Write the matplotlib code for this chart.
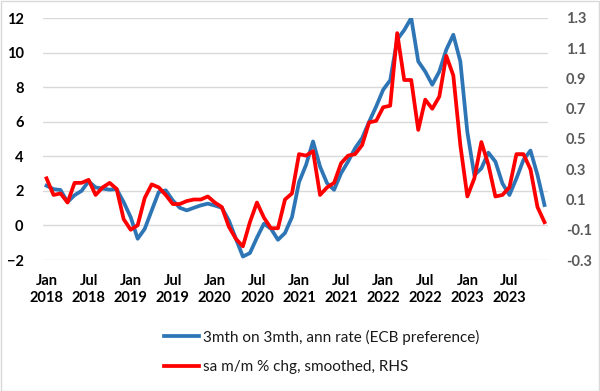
import matplotlib
matplotlib.use("Agg")
import matplotlib.pyplot as plt
from matplotlib.patches import Rectangle

plt.rcParams['font.family'] = ['Lato', 'DejaVu Sans']

months = ["Jan", "Jul"]
years = list(range(2018, 2024))
tick_labels = [f"{m}\n{y}" for y in years for m in months]

blue_3m3m = [2.3, 2.1, 2.05, 1.35, 1.75, 2.0, 2.55, 2.2, 2.13, 2.07, 2.1, 1.35,
             0.48, -0.77, -0.2, 0.87, 1.93, 2.03, 1.45, 1.02, 0.87, 1.02, 1.16, 1.26,
             1.15, 1.02, 0.29, -0.77, -1.8, -1.6, -0.71, 0.1, -0.19, -0.83, -0.44, 0.48,
             2.5, 3.5, 4.86, 3.4, 2.44, 2.06, 3.02, 3.7, 4.47, 5.05, 6.0, 6.88,
             7.85, 8.4, 10.75, 11.3, 12.0, 9.49, 8.9, 8.14, 8.9, 10.17, 11.03, 9.49,
             5.4, 2.9, 3.3, 4.21, 3.69, 2.43, 1.76, 2.72, 3.79, 4.33, 2.92, 1.18]

red_mm = [0.24, 0.13, 0.14, 0.08, 0.21, 0.21, 0.23, 0.13, 0.18, 0.21, 0.17, -0.03,
          -0.10, -0.07, 0.11, 0.20, 0.18, 0.13, 0.07, 0.07, 0.09, 0.10, 0.10, 0.12,
          0.08, 0.05, -0.08, -0.16, -0.21, -0.05, 0.08, -0.02, -0.09, -0.09, 0.10, 0.14,
          0.40, 0.39, 0.42, 0.13, 0.18, 0.21, 0.34, 0.39, 0.40, 0.46, 0.61, 0.62,
          0.71, 0.72, 1.20, 0.89, 0.89, 0.56, 0.76, 0.70, 0.78, 1.05, 0.92, 0.46,
          0.12, 0.24, 0.48, 0.33, 0.12, 0.13, 0.18, 0.40, 0.40, 0.30, 0.05, -0.05]

label_blue = "3mth on 3mth, ann rate (ECB preference)"
label_red = "sa m/m % chg, smoothed, RHS"

x = list(range(len(blue_3m3m)))

fig = plt.figure(figsize=(6.0, 3.91), dpi=100)
ax = fig.add_axes([43/600, 1-260/391, (548-43)/600, (260-18)/391])
ax2 = ax.twinx()

l1, = ax.plot(x, blue_3m3m, color="#2E75B6", lw=2.7, solid_joinstyle='round')
l2, = ax2.plot(x, red_mm, color="#FF0000", lw=2.7, solid_joinstyle='round')

ax.set_xlim(-0.5, len(x) - 0.5)
ax.set_ylim(-2, 12)
ax.set_yticks(range(-2, 13, 2))
ax2.set_ylim(-0.3, 1.3)
ax2.set_yticks([-0.3, -0.1, 0.1, 0.3, 0.5, 0.7, 0.9, 1.1, 1.3])
ax2.set_yticklabels([f"{v:.1f}" for v in [-0.3, -0.1, 0.1, 0.3, 0.5, 0.7, 0.9, 1.1, 1.3]])

ax.set_xticks(range(0, len(x), 6))
ax.set_xticklabels(tick_labels, linespacing=1.25)

ax.grid(axis='y', color="#D9D9D9", lw=1)
ax.set_axisbelow(True)
for a in (ax, ax2):
    for s in a.spines.values():
        s.set_visible(False)
    a.tick_params(length=0)

ax.tick_params(axis='y', labelsize=10.5, labelcolor='black', pad=14)
ax.tick_params(axis='x', labelsize=10.5, labelcolor='black', pad=10)
ax2.tick_params(axis='y', labelsize=10.5, labelcolor='#595959', pad=13)
for lab in ax.get_yticklabels() + ax.get_xticklabels() + ax2.get_yticklabels():
    lab.set_fontweight('bold')

fig.legend([l1, l2], [label_blue, label_red], loc='upper left',
           bbox_to_anchor=(150/600, 1-316/391), frameon=False, fontsize=11,
           handlelength=2.3, handletextpad=0.3, labelspacing=1.0,
           labelcolor='#1a1a1a')

fig.patches.append(Rectangle((0.001, 0.001), 0.997, 0.997, transform=fig.transFigure,
                             fill=False, edgecolor="#D9D9D9", lw=1))

fig.savefig("out.png", dpi=100)
